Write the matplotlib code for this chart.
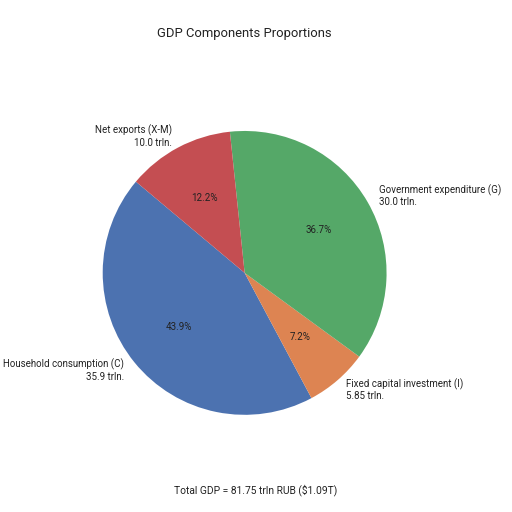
import matplotlib

matplotlib.use("Agg")

import matplotlib.pyplot as plt

components = [
    "Household consumption (C)",
    "Fixed capital investment (I)",
    "Government expenditure (G)",
    "Net exports (X-M)",
]
values_trln = [35.9, 5.85, 30.0, 10.0]
value_labels = ["35.9 trln.", "5.85 trln.", "30.0 trln.", "10.0 trln."]
colors = ["#4C72B0", "#DD8452", "#55A868", "#C44E52"]

total_trln = 81.75
total_usd = "$1.09T"

plt.rcParams["font.family"] = ["Roboto", "DejaVu Sans"]

fig = plt.figure(figsize=(5.12, 5.12), dpi=100)
ax = fig.add_axes([0.1313, 0.1205, 0.693, 0.693])

labels = [f"{name}\n{val}" for name, val in zip(components, value_labels)]
wedges, texts, autotexts = ax.pie(
    values_trln,
    labels=labels,
    colors=colors,
    autopct="%1.1f%%",
    startangle=140,
    labeldistance=1.09,
    textprops={"fontsize": 7.0, "color": "#222222"},
)
ax.axis("equal")
ax.set_xlim(-1.25, 1.25)
ax.set_ylim(-1.25, 1.25)

# title sits over the pie's centre, the footer over the figure's centre
fig.text(0.478, 1 - 33 / 512, "GDP Components Proportions", ha="center", va="center",
         fontsize=9.4, color="#222222")
fig.text(0.5, 1 - 490 / 512, f"Total GDP = {total_trln} trln RUB ({total_usd})",
         ha="center", va="center", fontsize=7.4, color="#222222")

fig.savefig("out.png", dpi=100)
